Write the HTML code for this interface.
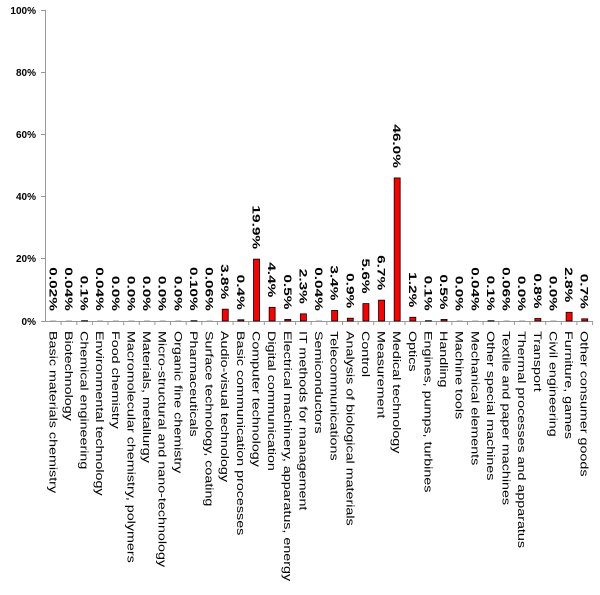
<!DOCTYPE html>
<html><head><meta charset="utf-8"><style>
html,body{margin:0;padding:0;background:#fff;}
svg{display:block;font-family:"Liberation Sans",sans-serif;}
</style></head><body>
<svg id="s" width="600" height="595" xmlns="http://www.w3.org/2000/svg">
<g font-size="10" font-weight="bold" text-anchor="end" fill="#000">
<text x="36" y="14">100%</text>
<text x="36" y="76">80%</text>
<text x="36" y="138">60%</text>
<text x="36" y="200">40%</text>
<text x="36" y="262">20%</text>
<text x="36" y="325">0%</text>
</g>
<line x1="45.5" y1="10" x2="45.5" y2="321" stroke="#999"/>
<g stroke="#999">
<line x1="41" y1="10.5" x2="45" y2="10.5"/><line x1="41" y1="72.5" x2="45" y2="72.5"/>
<line x1="41" y1="134.5" x2="45" y2="134.5"/><line x1="41" y1="196.5" x2="45" y2="196.5"/>
<line x1="41" y1="258.5" x2="45" y2="258.5"/>
<line x1="41" y1="321.5" x2="593" y2="321.5"/>
</g>
<g id="bars"></g>
</svg>
<script>
(function(){
var vals=[0.02,0.04,0.1,0.04,0,0,0,0,0,0.1,0.06,3.8,0.4,19.9,4.4,0.5,2.3,0.04,3.4,0.9,5.6,6.7,46.0,1.2,0.1,0.5,0,0.04,0.1,0.06,0,0.8,0,2.8,0.7];
var labs=["0.02%","0.04%","0.1%","0.04%","0.0%","0.0%","0.0%","0.0%","0.0%","0.10%","0.06%","3.8%","0.4%","19.9%","4.4%","0.5%","2.3%","0.04%","3.4%","0.9%","5.6%","6.7%","46.0%","1.2%","0.1%","0.5%","0.0%","0.04%","0.1%","0.06%","0.0%","0.8%","0.0%","2.8%","0.7%"];
var cats=["Basic materials chemistry","Biotechnology","Chemical engineering","Environmental technology","Food chemistry","Macromolecular chemistry, polymers","Materials, metallurgy","Micro-structural and nano-technology","Organic fine chemistry","Pharmaceuticals","Surface technology, coating","Audio-visual technology","Basic communication processes","Computer technology","Digital communication","Electrical machinery, apparatus, energy","IT methods for management","Semiconductors","Telecommunications","Analysis of biological materials","Control","Measurement","Medical technology","Optics","Engines, pumps, turbines","Handling","Machine tools","Mechanical elements","Other special machines","Textile and paper machines","Thermal processes and apparatus","Transport","Civil engineering","Furniture, games","Other consumer goods"];
var g=document.getElementById("bars"),s="";
var x0=45.5,w=15.63,y0=321,sc=3.11;
for(var i=0;i<35;i++){
 var cx=x0+(i+0.5)*w, bh=vals[i]*sc, ty=y0-bh;
 s+='<line x1="'+(x0+(i+1)*w).toFixed(1)+'" y1="321" x2="'+(x0+(i+1)*w).toFixed(1)+'" y2="325" stroke="#999"/>';
 if(bh>0.3) s+='<rect x="'+(cx-3)+'" y="'+ty+'" width="6" height="'+bh+'" fill="#ff0000" stroke="#000" stroke-width="0.8"/>';
 else s+='<rect x="'+(cx-3)+'" y="'+(y0-1)+'" width="6" height="1" fill="#ccc"/>';
 s+='<text class="v" transform="translate('+cx+','+(ty-10)+') rotate(90)" text-anchor="end" dy="4" font-size="11" font-weight="bold">'+labs[i]+'</text>';
 s+='<text class="c" transform="translate('+cx+',331) rotate(90)" dy="4" font-size="11">'+cats[i]+'</text>';
}
g.innerHTML=s;
var t=g.querySelectorAll("text");
for(var j=0;j<t.length;j++){
 var L=t[j].getComputedTextLength();
 var r=t[j].getAttribute("class")=="v"?1.4:1.3;
 t[j].setAttribute("textLength",(L*r).toFixed(1));
 t[j].setAttribute("lengthAdjust","spacingAndGlyphs");
}
})();
</script>
</body></html>
